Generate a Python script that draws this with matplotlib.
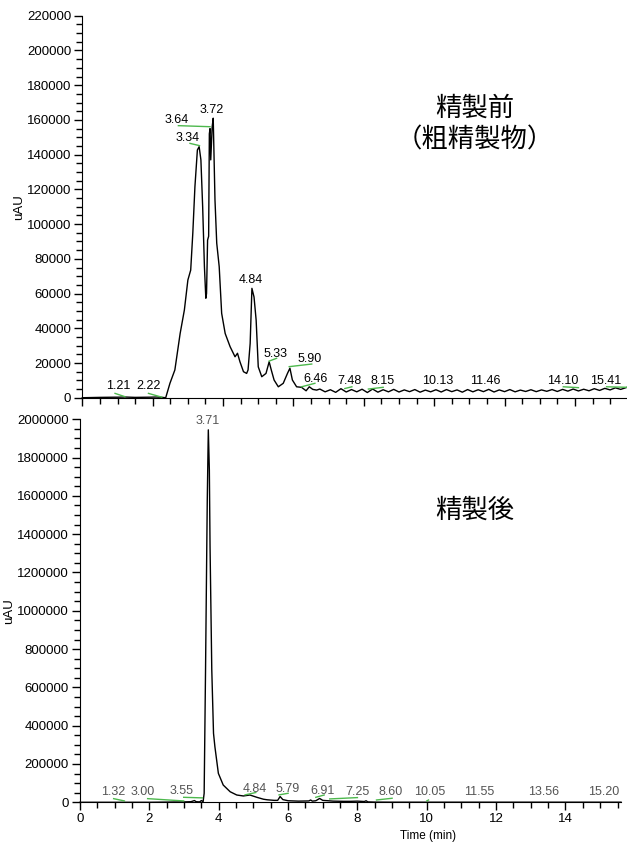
"""Chromatogram before / after purification (two stacked panels)."""

import matplotlib
import matplotlib.pyplot as plt
from matplotlib.ticker import MultipleLocator

matplotlib.use("AGG")

plt.rcParams["font.family"] = ["Liberation Sans", "DejaVu Sans"]

# ---- top panel: before purification (crude) ----
top_t = [0.0, 0.5, 0.93, 1.0, 1.21, 1.5, 1.9, 2.1, 2.22, 2.37, 2.49, 2.63,
         2.78, 2.90, 3.00, 3.08, 3.14, 3.20, 3.27, 3.32, 3.37, 3.42, 3.47,
         3.51, 3.53, 3.56, 3.59, 3.61, 3.63, 3.65, 3.69, 3.72, 3.77, 3.82,
         3.89, 3.96, 4.06, 4.20, 4.34, 4.41, 4.48, 4.58, 4.67, 4.71, 4.77,
         4.82, 4.88, 4.94, 5.00, 5.10, 5.22, 5.31, 5.37, 5.45, 5.57, 5.71,
         5.83, 5.90, 5.97, 6.09, 6.23, 6.36, 6.45, 6.55, 6.66]
top_v = [0, 200, 300, 300, 400, 200, 300, 400, 300, 0, 8300, 16000,
         37000, 50500, 67800, 73500, 94800, 121500, 142700, 144600, 137000,
         110000, 75500, 57300, 60000, 90800, 93000, 152000, 155000, 137000,
         156000, 161000, 114000, 89000, 75500, 48600, 37000, 29400, 23600,
         25600, 20700, 15000, 14000, 16000, 31300, 63000, 58000, 44700,
         17800, 12100, 14000, 20700, 16000, 10200, 6300, 8300, 14000, 17000,
         10200, 6300, 6000, 4000, 6300, 4800, 4400]
tail_t = [6.75, 6.9, 7.05, 7.2, 7.35, 7.5, 7.65, 7.8, 7.95, 8.1,
          8.25, 8.4, 8.55, 8.7, 8.85, 9.0, 9.15, 9.3, 9.45, 9.6,
          9.75, 9.9, 10.05, 10.2, 10.35, 10.5, 10.65, 10.8, 10.95, 11.1,
          11.25, 11.4, 11.55, 11.7, 11.85, 12.0, 12.15, 12.3, 12.45, 12.6,
          12.75, 12.9, 13.05, 13.2, 13.35, 13.5, 13.65, 13.8, 13.95, 14.1,
          14.25, 14.4, 14.55, 14.7, 14.85, 15.0, 15.15, 15.3, 15.48]
tail_v = [5000, 3400, 4600, 3100, 5200, 3300, 4700, 3400, 4900, 3000,
          5000, 3200, 4600, 3400, 4800, 3300, 4500, 3500, 4700, 3200,
          4400, 3400, 4600, 3300, 4700, 3500, 4500, 3200, 4700, 3400,
          4600, 3500, 4800, 3300, 4500, 3500, 4700, 3400, 4400, 3600,
          4600, 3500, 4500, 3700, 4700, 3600, 4800, 3800, 5000, 3900,
          4900, 4000, 5200, 4200, 5400, 4500, 5700, 4800, 6000]

top_labels = ["1.21", "2.22", "3.64", "3.72", "3.34", "4.84", "5.33", "5.90",
              "6.46", "7.48", "8.15", "10.13", "11.46", "14.10", "15.41"]
top_label_t = [1.01, 1.87, 2.69, 3.69, 3.00, 4.79, 5.50, 6.47,
               6.64, 7.58, 8.54, 10.11, 11.44, 13.66, 14.88]
top_label_v = [6700, 6700, 160000, 165700, 149600, 67800, 25200, 22300,
               10800, 9600, 9600, 9600, 9600, 9600, 9600]
# baseline marks (start t, end t, start value, end value)
top_base_t0 = [0.93, 1.88, 2.73, 3.06, 5.31, 5.88, 6.23, 7.46, 8.13, 13.67, 14.90]
top_base_t1 = [1.21, 2.26, 3.63, 3.33, 5.52, 6.52, 6.61, 7.66, 8.55, 14.10, 15.48]
top_base_v0 = [2500, 2500, 156700, 146500, 21100, 17900, 6300, 5300, 5000, 6300, 6300]
top_base_v1 = [600, 300, 156100, 145200, 22700, 19400, 8300, 6300, 6000, 5800, 6000]

# ---- bottom panel: after purification ----
bot_t = [0.0, 1.0, 2.0, 3.0, 3.2, 3.3, 3.35, 3.45, 3.5, 3.55, 3.58, 3.62,
         3.65, 3.67, 3.70, 3.73, 3.75, 3.80, 3.85, 3.89, 3.99, 4.13, 4.33,
         4.52, 4.71, 4.90, 5.10, 5.29, 5.40, 5.60, 5.70, 5.77, 5.85, 6.0,
         6.3, 6.6, 6.65, 6.7, 6.8, 6.91, 7.0, 7.3, 7.6, 7.8, 8.0, 8.2,
         8.25, 8.3, 8.5, 9.0, 10.0, 11.0, 12.0, 13.0, 14.0, 15.0, 15.6]
bot_v = [0, 0, 0, 2000, 3000, 9000, 3000, 2000, 9000, 3000, 47000, 691000,
         1230000, 1580000, 1945000, 1735000, 1335000, 691000, 360000, 290000,
         151000, 90000, 55000, 38000, 33000, 38000, 26000, 16000, 13000,
         10000, 10000, 30000, 14000, 8000, 6000, 7000, 12000, 6000, 8000,
         20000, 10000, 6000, 5000, 5000, 6000, 4000, 8000, 2000, 1000, 500,
         500, 500, 500, 500, 500, 500, 500]

bot_labels = ["1.32", "3.00", "3.55", "3.71", "4.84", "5.79", "6.91", "7.25",
              "8.60", "10.05", "11.55", "13.56", "15.20"]
bot_label_t = [0.97, 1.82, 2.94, 3.67, 5.05, 5.98, 7.00, 7.99,
               8.97, 10.07, 11.50, 13.37, 15.09]
bot_label_v = [53000, 53000, 60000, 1990000, 68000, 68000, 60000, 53000,
               53000, 53000, 53000, 53000, 53000]
bot_base_t0 = [0.97, 1.95, 2.99, 4.76, 5.74, 6.80, 7.20, 8.55, 10.00]
bot_base_t1 = [1.28, 2.99, 3.53, 5.07, 6.00, 7.04, 8.00, 9.00, 10.05]
bot_base_v0 = [19000, 19000, 26000, 38600, 38600, 26000, 17500, 12000, 7000]
bot_base_v1 = [7000, 7000, 23000, 51000, 47000, 38000, 24500, 21000, 12000]

GREEN = "#4db84d"


def style_axis(ax, xmax, ymax, ymajor, yminor):
    """Left/bottom spines only, outward ticks."""
    ax.set_xlim(0, xmax)
    ax.set_ylim(0, ymax)
    ax.spines["top"].set_visible(False)
    ax.spines["right"].set_visible(False)
    ax.xaxis.set_major_locator(MultipleLocator(2))
    ax.xaxis.set_minor_locator(MultipleLocator(0.5))
    ax.yaxis.set_major_locator(MultipleLocator(ymajor))
    ax.yaxis.set_minor_locator(MultipleLocator(yminor))
    ax.tick_params(which="major", direction="out", length=6, width=1,
                   labelsize=9.5, pad=2)
    ax.tick_params(which="minor", direction="out", length=4, width=1)
    ax.yaxis.set_major_formatter(plt.FuncFormatter(lambda v, p: "%d" % v))
    ax.set_ylabel("uAU", fontsize=9.5)


def draw_baselines(ax, t0, t1, v0, v1):
    for a, b, c, d in zip(t0, t1, v0, v1):
        ax.plot([a, b], [c, d], color=GREEN, lw=1.0, clip_on=False)


fig = plt.figure(figsize=(6.27, 8.43), dpi=100)

ax1 = fig.add_axes([0.1313, 0.5282, 0.8687, 0.4531])
style_axis(ax1, 15.48, 220000, 20000, 5000)
ax1.tick_params(axis="x", labelbottom=False)
ax1.plot(top_t + tail_t, top_v + tail_v, color="black", lw=1.0, clip_on=False)
draw_baselines(ax1, top_base_t0, top_base_t1, top_base_v0, top_base_v1)
for s, t, v in zip(top_labels, top_label_t, top_label_v):
    ax1.text(t, v, s, ha="center", va="center", fontsize=9, color="black")
ax1.yaxis.set_label_coords(-0.105, 0.5)
ax1.text(0.72, 0.716, "精製前\n（粗精製物）", transform=ax1.transAxes,
         ha="center", va="center", fontsize=19, linespacing=1.25,
         family=["Noto Sans CJK JP", "DejaVu Sans"])

ax2 = fig.add_axes([0.1276, 0.0483, 0.8628, 0.4543])
style_axis(ax2, 15.6, 2000000, 200000, 50000)
ax2.plot(bot_t, bot_v, color="black", lw=1.0, clip_on=False)
draw_baselines(ax2, bot_base_t0, bot_base_t1, bot_base_v0, bot_base_v1)
for s, t, v in zip(bot_labels, bot_label_t, bot_label_v):
    ax2.text(t, v, s, ha="center", va="center", fontsize=9, color="#555555",
             clip_on=False)
ax2.yaxis.set_label_coords(-0.12, 0.5)
ax2.set_xlabel("Time (min)", fontsize=8.5)
ax2.xaxis.set_label_coords(0.643, -0.072)
ax2.text(0.73, 0.763, "精製後", transform=ax2.transAxes,
         ha="center", va="center", fontsize=19,
         family=["Noto Sans CJK JP", "DejaVu Sans"])

fig.savefig("out.png", dpi=100)
